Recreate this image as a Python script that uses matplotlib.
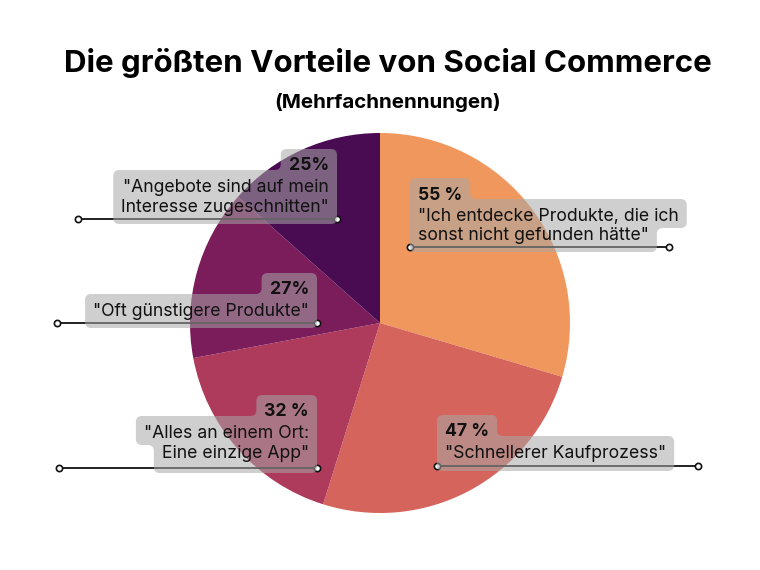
import numpy as np
import matplotlib
matplotlib.use("Agg")
from matplotlib import pyplot as plt
from matplotlib.path import Path
from matplotlib.patches import PathPatch

# data
values = [55, 47, 32, 27, 25]
pct_labels = ['55 %', '47 %', '32 %', '27%', '25%']
labels = ['"Ich entdecke Produkte, die ich\nsonst nicht gefunden hätte"',
          '"Schnellerer Kaufprozess"',
          '"Alles an einem Ort:\nEine einzige App"',
          '"Oft günstigere Produkte"',
          '"Angebote sind auf mein\nInteresse zugeschnitten"']
colors = ['#EF975C', '#D5645C', '#AE3A5C', '#7B1C5B', '#490B52']

title = 'Die größten Vorteile von Social Commerce'
subtitle = '(Mehrfachnennungen)'

# label layout in pixels (x, y of first text line, side, y of leader line, outer end)
label_x = [418, 445, 309, 309, 329]
label_y = [195, 432, 412, 290, 166]
label_side = ['right', 'right', 'left', 'left', 'left']
lead_y = [247, 466, 468, 323, 219]
lead_end = [669, 698, 59, 57, 78]

FONT = 'Inter'
PCT_GAP = 21
LINE_H = 20
BOX_FC = '#a8a8a8'
BOX_ALPHA = 0.55


def rounded_path(verts, r=6):
    verts = [np.asarray(v, float) for v in verts]
    n = len(verts)
    pts, codes = [], []
    for i in range(n):
        p, prev, nxt = verts[i], verts[i - 1], verts[(i + 1) % n]
        d1, d2 = p - prev, nxt - p
        l1, l2 = np.hypot(*d1), np.hypot(*d2)
        rr = min(r, l1 / 2, l2 / 2)
        a = p - d1 / l1 * rr
        b = p + d2 / l2 * rr
        pts.append(a)
        codes.append(Path.MOVETO if i == 0 else Path.LINETO)
        pts += [p, b]
        codes += [Path.CURVE3, Path.CURVE3]
    pts.append(pts[0])
    codes.append(Path.CLOSEPOLY)
    return Path(pts, codes)


def drop_collinear(verts):
    out = []
    n = len(verts)
    for i in range(n):
        a, b, c = np.array(verts[i - 1]), np.array(verts[i]), np.array(verts[(i + 1) % n])
        cr = (b[0] - a[0]) * (c[1] - b[1]) - (b[1] - a[1]) * (c[0] - b[0])
        if abs(cr) > 1e-6:
            out.append(tuple(b))
    return out


def merge_edges(edges, tol=14, use_min=True):
    # text lines of nearly equal width share one box edge
    edges = list(edges)
    for i in range(2, len(edges)):
        if abs(edges[i] - edges[i - 1]) < tol:
            m = min(edges[i], edges[i - 1]) if use_min else max(edges[i], edges[i - 1])
            edges[i] = edges[i - 1] = m
    return edges


def label_box(ax, rects, centers, side, bottom, padx=8):
    # rects: (left, right) per text line, top to bottom; first one is the percentage
    bands = [centers[0] - 17, centers[1] - 17]
    for i in range(2, len(rects)):
        bands.append((centers[i - 1] + centers[i]) / 2 + 2)
    bands.append(bottom)
    if side == 'right':
        L = min(r[0] for r in rects) - padx
        R = merge_edges([r[1] + padx for r in rects], use_min=False)
        verts = [(L, bands[0])]
        for i, rr in enumerate(R):
            verts += [(rr, bands[i]), (rr, bands[i + 1])]
        verts.append((L, bands[-1]))
    else:
        R = max(r[1] for r in rects) + padx
        L = merge_edges([r[0] - padx for r in rects])
        verts = [(R, bands[0]), (R, bands[-1])]
        for i in range(len(L) - 1, -1, -1):
            verts += [(L[i], bands[i + 1]), (L[i], bands[i])]
    verts = drop_collinear(verts)
    patch = PathPatch(rounded_path(verts, 6), facecolor=BOX_FC, edgecolor='none',
                      alpha=BOX_ALPHA, zorder=4)
    ax.add_patch(patch)
    return min(v[0] for v in verts), max(v[0] for v in verts)


fig = plt.figure(figsize=(7.6, 5.7), dpi=100)
ax = fig.add_axes([0, 0, 1, 1])

ax.pie(values, colors=colors, startangle=-90, counterclock=True,
       center=(380, 323), radius=190, frame=True,
       wedgeprops=dict(linewidth=0))
ax.set_xlim(0, 760)
ax.set_ylim(570, 0)
ax.set_aspect('equal')
ax.axis('off')

ax.text(388, 63, title, ha='center', va='center', fontsize=22.5,
        fontweight='bold', family=FONT, color='black')
ax.text(388, 103, subtitle, ha='center', va='center', fontsize=14.8,
        fontweight='bold', family=FONT, color='black')

fig.canvas.draw()
renderer = fig.canvas.get_renderer()
inv = ax.transData.inverted()

for k in range(len(values)):
    ha = 'left' if label_side[k] == 'right' else 'right'
    x = label_x[k]
    lines = [pct_labels[k]] + labels[k].split('\n')
    centers = [label_y[k]] + [label_y[k] + PCT_GAP + j * LINE_H for j in range(len(lines) - 1)]
    rects = []
    for j, line in enumerate(lines):
        t = ax.text(x, centers[j], line, ha=ha, va='center',
                    fontsize=12.7, family=FONT, color='#111111', zorder=5,
                    fontweight='bold' if j == 0 else 'normal')
        bb = t.get_window_extent(renderer)
        (x0, _), (x1, _) = inv.transform([(bb.x0, bb.y0), (bb.x1, bb.y1)])
        rects.append((x0, x1))
    left, right = label_box(ax, rects, centers, label_side[k], lead_y[k] + 5)
    inner = left if label_side[k] == 'right' else right
    ax.plot([inner, lead_end[k]], [lead_y[k], lead_y[k]], color='#111111',
            linewidth=1.3, zorder=3)
    ax.plot([inner, lead_end[k]], [lead_y[k], lead_y[k]], linestyle='none',
            marker='o', markersize=4.5, markerfacecolor='white',
            markeredgecolor='#111111', markeredgewidth=1.2, zorder=3)

fig.savefig('out.png', dpi=100)
